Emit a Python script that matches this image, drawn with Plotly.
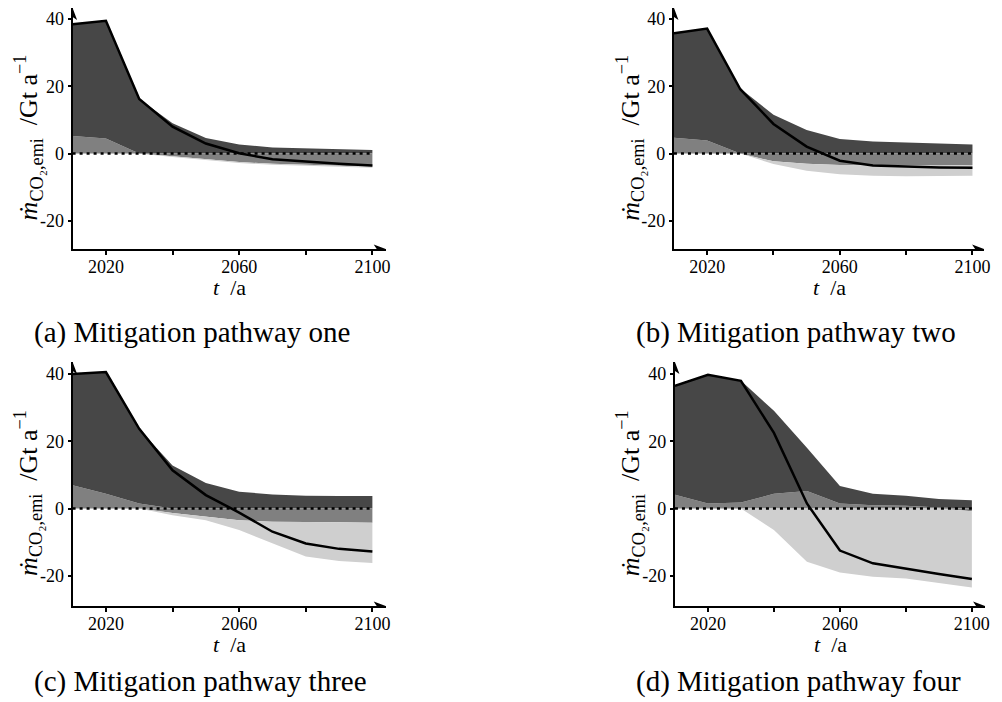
import plotly.graph_objects as go

YEARS = [2010, 2020, 2030, 2040, 2050, 2060, 2070, 2080, 2090, 2100]

# (a) Mitigation pathway one
FOSSIL_A = [33.2, 34.9, 16.2, 9.0, 4.6, 2.7, 1.8, 1.5, 1.3, 1.1]
LAND_A = [5.2, 4.5, 0.0, -0.8, -1.6, -2.5, -3.0, -3.3, -3.6, -3.9]
CDR_A = [0.0, 0.0, 0.0, -0.2, -0.3, -0.3, -0.3, -0.3, -0.3, -0.3]
NET_A = [38.4, 39.4, 16.2, 8.0, 3.0, 0.1, -1.7, -2.4, -3.0, -3.5]

# (b) Mitigation pathway two
FOSSIL_B = [31.0, 33.2, 19.3, 11.5, 7.0, 4.3, 3.6, 3.3, 2.9, 2.7]
LAND_B = [4.7, 3.9, 0.0, -2.3, -3.0, -3.4, -3.5, -3.5, -3.5, -3.4]
CDR_B = [0.0, 0.0, 0.0, -0.8, -2.1, -2.7, -3.1, -3.2, -3.2, -3.2]
NET_B = [35.7, 37.1, 19.1, 8.8, 2.1, -2.1, -3.5, -3.9, -4.1, -4.2]

# (c) Mitigation pathway three
FOSSIL_C = [33.1, 36.2, 22.2, 12.8, 7.6, 5.0, 4.2, 3.8, 3.7, 3.7]
LAND_C = [6.9, 4.4, 1.5, -1.3, -2.5, -3.5, -3.9, -4.1, -4.1, -4.2]
CDR_C = [0.0, 0.0, 0.0, -0.7, -1.0, -2.9, -6.5, -10.2, -11.5, -12.0]
NET_C = [40.0, 40.6, 23.7, 11.4, 4.0, -1.2, -6.9, -10.4, -12.0, -12.8]

# (d) Mitigation pathway four
FOSSIL_D = [32.4, 38.3, 36.2, 24.7, 12.9, 5.2, 3.4, 3.0, 2.5, 2.5]
LAND_D = [4.1, 1.5, 1.8, 4.4, 5.2, 1.5, 1.0, 0.8, 0.3, -0.8]
CDR_D = [0.0, 0.0, 0.0, -6.4, -15.8, -19.0, -20.3, -20.8, -22.1, -22.7]
NET_D = [36.5, 39.8, 38.0, 22.5, 1.5, -12.5, -16.3, -18.0, -19.5, -21.0]

CAPTIONS = ["(a) Mitigation pathway one", "(b) Mitigation pathway two",
            "(c) Mitigation pathway three", "(d) Mitigation pathway four"]
X_TICKS = [2020, 2060, 2100]
Y_TICKS = [40, 20, 0, -20]
Y_TICKTEXT = ["40", "20", "0", "-20"]
X_TITLE = "<i>t</i>  /a"
Y_TITLE = "<i>ṁ</i><sub>CO₂,emi</sub>  /Gt a<sup>−1</sup>"

# page has an 8px body margin: figure occupies the rest of the window
OFF = 8
W, H = 1002 - OFF, 702 - OFF
DARK, MID, LIGHT = "#474747", "#808080", "#cfcfcf"
FONT = "Liberation Serif, serif"


def fx(px):
    return (px - OFF) / W


def fy(py):
    return 1 - (py - OFF) / H


# pixel boxes in window coords: (left, right, top, bottom), x range, y range
PANELS = [
    dict(data=(FOSSIL_A, LAND_A, CDR_A, NET_A), box=(73, 388, 8, 249), xr=(2010, 2104), yr=(-28.3, 43.2)),
    dict(data=(FOSSIL_B, LAND_B, CDR_B, NET_B), box=(678, 990, 8, 249), xr=(2010, 2103.5), yr=(-28.3, 43.2)),
    dict(data=(FOSSIL_C, LAND_C, CDR_C, NET_C), box=(73, 388, 362, 606), xr=(2010, 2104), yr=(-29.0, 43.6)),
    dict(data=(FOSSIL_D, LAND_D, CDR_D, NET_D), box=(679, 991, 362, 606), xr=(2010, 2104), yr=(-29.0, 43.6)),
]
CAP_POS = [(32, 332), (638, 332), (32, 681), (638, 681)]

fig = go.Figure()
annotations = []
shapes = []
layout = dict(width=W, height=H, margin=dict(l=0, r=0, t=0, b=0),
              paper_bgcolor="white", plot_bgcolor="white", showlegend=False,
              font=dict(family=FONT, color="black"))

for i, p in enumerate(PANELS):
    n = "" if i == 0 else str(i + 1)
    xa, ya = "x" + n, "y" + n
    fossil, land, cdr, net = p["data"]
    land_pos = [max(v, 0.0) for v in land]
    land_neg = [min(v, 0.0) for v in land]
    common = dict(x=YEARS, xaxis=xa, yaxis=ya, mode="lines", line=dict(width=0), hoverinfo="skip")
    fig.add_trace(go.Scatter(y=land_pos, stackgroup="pos" + n, fillcolor=MID, **common))
    fig.add_trace(go.Scatter(y=fossil, stackgroup="pos" + n, fillcolor=DARK, **common))
    fig.add_trace(go.Scatter(y=land_neg, stackgroup="neg" + n, fillcolor=MID, **common))
    fig.add_trace(go.Scatter(y=cdr, stackgroup="neg" + n, fillcolor=LIGHT, **common))
    fig.add_trace(go.Scatter(x=YEARS, y=net, xaxis=xa, yaxis=ya, mode="lines",
                             line=dict(color="black", width=2.5), hoverinfo="skip"))

    l, r, t, b = p["box"]
    layout["xaxis" + n] = dict(domain=[fx(l), fx(r)], range=list(p["xr"]), anchor=ya,
                               showgrid=False, zeroline=False, showline=True, linecolor="black",
                               linewidth=2, tickvals=X_TICKS, ticks="outside", ticklen=0,
                               tickfont=dict(size=18, family=FONT),
                               minor=dict(ticks="outside", ticklen=4, tickwidth=2, dtick=20,
                                          tick0=2000, tickcolor="black", showgrid=False))
    layout["yaxis" + n] = dict(domain=[fy(b), fy(t)], range=list(p["yr"]), anchor=xa,
                               showgrid=False, zeroline=False, showline=True, linecolor="black",
                               linewidth=2, tickvals=Y_TICKS, ticktext=Y_TICKTEXT,
                               ticks="outside", ticklen=3, tickwidth=1.5, tickcolor="black",
                               tickfont=dict(size=18, family=FONT))
    # zero reference line
    shapes.append(dict(type="line", xref=xa, yref=ya, x0=YEARS[0], x1=YEARS[-1], y0=0, y1=0,
                       line=dict(color="black", width=2.5, dash="3px,4px"), layer="above"))
    # arrowheads at the axis ends
    shapes.append(dict(type="path", xref=xa, yref=ya, xsizemode="pixel", ysizemode="pixel",
                       xanchor=p["xr"][1], yanchor=p["yr"][0],
                       path="M0,0 L-12,4.5 L-9,0 L-12,-4.5 Z",
                       fillcolor="black", line=dict(width=0), layer="above"))
    shapes.append(dict(type="path", xref=xa, yref=ya, xsizemode="pixel", ysizemode="pixel",
                       xanchor=p["xr"][0], yanchor=p["yr"][1],
                       path="M0,0 L4.5,-12 L0,-9 L-4.5,-12 Z",
                       fillcolor="black", line=dict(width=0), layer="above"))
    # axis titles
    annotations.append(dict(xref="paper", yref="paper", x=fx((l + r) / 2), y=fy(b + 38),
                            text=X_TITLE, showarrow=False, font=dict(size=22, family=FONT),
                            xanchor="center", yanchor="middle"))
    annotations.append(dict(xref="paper", yref="paper", x=fx(l - 45), y=fy((t + b) / 2 + 9),
                            text=Y_TITLE, textangle=-90,
                            showarrow=False, font=dict(size=26, family=FONT),
                            xanchor="center", yanchor="middle"))
    cx, cy = CAP_POS[i]
    annotations.append(dict(xref="paper", yref="paper", x=fx(cx), y=fy(cy), text=CAPTIONS[i],
                            showarrow=False, font=dict(size=29, family=FONT),
                            xanchor="left", yanchor="middle"))

layout["annotations"] = annotations
layout["shapes"] = shapes
fig.update_layout(**layout)
fig.write_html("out.html")
